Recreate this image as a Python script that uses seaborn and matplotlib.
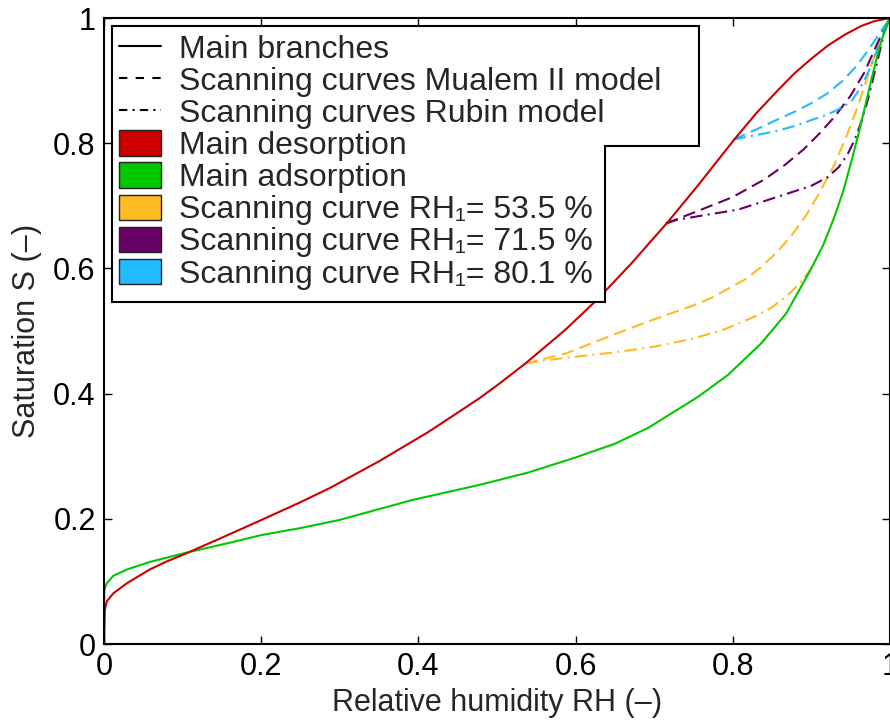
import matplotlib
matplotlib.use("Agg")
import matplotlib.pyplot as plt
import seaborn as sns
from matplotlib.lines import Line2D
from matplotlib.patches import Patch, Polygon
from matplotlib.ticker import FormatStrFormatter

# main desorption branch
rh_des = [0, 0.0009, 0.0034, 0.0118, 0.029, 0.058, 0.08, 0.105, 0.143, 0.2, 0.249, 0.287,
          0.35, 0.413, 0.477, 0.502, 0.536, 0.587, 0.629, 0.671, 0.718, 0.756, 0.802, 0.83,
          0.857, 0.878, 0.9, 0.921, 0.942, 0.963, 0.98, 1.0]
s_des = [0, 0.054, 0.068, 0.081, 0.097, 0.119, 0.132, 0.145, 0.166, 0.198, 0.226, 0.249,
         0.292, 0.339, 0.392, 0.415, 0.448, 0.502, 0.552, 0.608, 0.675, 0.733, 0.806, 0.848,
         0.884, 0.911, 0.935, 0.956, 0.973, 0.987, 0.995, 1.0]

# main adsorption branch
rh_ads = [0, 0.0003, 0.0034, 0.0118, 0.029, 0.058, 0.105, 0.164, 0.2, 0.249, 0.299, 0.392,
          0.477, 0.54, 0.6, 0.65, 0.692, 0.756, 0.794, 0.836, 0.868, 0.9, 0.915, 0.929, 0.941,
          0.952, 0.961, 0.969, 0.977, 0.985, 0.993, 1.0]
s_ads = [0, 0.086, 0.097, 0.109, 0.119, 0.131, 0.146, 0.163, 0.174, 0.185, 0.198, 0.23,
         0.254, 0.274, 0.298, 0.32, 0.345, 0.395, 0.43, 0.48, 0.528, 0.6, 0.637, 0.681, 0.725,
         0.776, 0.82, 0.862, 0.905, 0.945, 0.979, 1.0]

# scanning curves RH1 = 53.5 %
rh_535_mu = [0.536, 0.587, 0.65, 0.692, 0.75, 0.773, 0.815, 0.836, 0.857, 0.875, 0.893,
             0.91, 0.929, 0.946, 0.96, 0.975, 0.988, 1.0]
s_535_mu = [0.448, 0.464, 0.495, 0.515, 0.541, 0.553, 0.582, 0.602, 0.627, 0.653, 0.684,
            0.72, 0.765, 0.815, 0.862, 0.92, 0.968, 1.0]
rh_535_ru = [0.536, 0.56, 0.6, 0.65, 0.7, 0.75, 0.79, 0.828, 0.85, 0.87, 0.885, 0.9]
s_535_ru = [0.448, 0.453, 0.459, 0.466, 0.475, 0.488, 0.503, 0.523, 0.538, 0.557, 0.576, 0.6]

# scanning curves RH1 = 71.5 %
rh_715_mu = [0.715, 0.75, 0.8, 0.84, 0.866, 0.89, 0.91, 0.93, 0.95, 0.967, 0.98, 0.992, 1.0]
s_715_mu = [0.672, 0.689, 0.714, 0.742, 0.765, 0.79, 0.815, 0.843, 0.876, 0.912, 0.948,
            0.982, 1.0]
rh_715_ru = [0.715, 0.73, 0.807, 0.878, 0.9, 0.921, 0.935, 0.946, 0.955, 0.963, 0.971,
             0.978, 0.985, 0.993, 1.0]
s_715_ru = [0.672, 0.678, 0.694, 0.723, 0.732, 0.746, 0.762, 0.782, 0.805, 0.832, 0.865,
            0.9, 0.936, 0.978, 1.0]

# scanning curves RH1 = 80.1 %
rh_801_mu = [0.801, 0.83, 0.857, 0.88, 0.9, 0.921, 0.94, 0.955, 0.971, 0.985, 1.0]
s_801_mu = [0.806, 0.822, 0.838, 0.851, 0.864, 0.88, 0.9, 0.92, 0.946, 0.972, 1.0]
rh_801_ru = [0.801, 0.83, 0.857, 0.88, 0.9, 0.921, 0.942, 0.952, 0.959, 0.966, 0.974,
             0.984, 0.993, 1.0]
s_801_ru = [0.806, 0.813, 0.82, 0.828, 0.837, 0.846, 0.859, 0.869, 0.882, 0.897, 0.918,
            0.95, 0.982, 1.0]

red = "#CC0000"
green = "#00C800"
orange = "#FFBB22"
purple = "#660066"
blue = "#22BBFF"
dashed = (0, (6, 3))
dashdot = (0, (6, 2.5, 1, 2.5))

sns.set_style("ticks")
plt.rcParams["font.family"] = ["Liberation Sans", "DejaVu Sans"]

fig = plt.figure(figsize=(8.9, 7.22), dpi=100)
ax = fig.add_axes([0.1169, 0.108, 0.883, 0.867])

scans = [
    (rh_535_mu, s_535_mu, orange, dashed),
    (rh_535_ru, s_535_ru, orange, dashdot),
    (rh_715_mu, s_715_mu, purple, dashed),
    (rh_715_ru, s_715_ru, purple, dashdot),
    (rh_801_mu, s_801_mu, blue, dashed),
    (rh_801_ru, s_801_ru, blue, dashdot),
]
for x, y, c, ls in scans:
    sns.lineplot(x=x, y=y, color=c, linestyle=ls, lw=1.5, estimator=None, sort=False, ax=ax)

sns.lineplot(x=rh_ads, y=s_ads, color=green, lw=1.5, estimator=None, sort=False, ax=ax)
sns.lineplot(x=rh_des, y=s_des, color=red, lw=1.5, estimator=None, sort=False, ax=ax)

ax.set_xlim(0, 1)
ax.set_ylim(0, 1)
ticks = [0, 0.2, 0.4, 0.6, 0.8, 1.0]
ax.set_xticks(ticks)
ax.set_yticks(ticks)
ax.xaxis.set_major_formatter(FormatStrFormatter("%g"))
ax.yaxis.set_major_formatter(FormatStrFormatter("%g"))
ax.tick_params(direction="in", length=6, width=1, top=True, right=True,
               labelsize=22, pad=6, colors="black")
for sp in ax.spines.values():
    sp.set_linewidth(1.5)
    sp.set_color("black")
ax.set_xlabel("Relative humidity RH (–)", fontsize=22, labelpad=4)
ax.set_ylabel("Saturation S (–)", fontsize=22, labelpad=8)

handles = [
    Line2D([], [], color="black", lw=1.5, linestyle="-"),
    Line2D([], [], color="black", lw=1.5, linestyle=(0, (4, 4))),
    Line2D([], [], color="black", lw=1.5, linestyle=(0, (4, 2.5, 1, 2.5))),
] + [Patch(facecolor=c, edgecolor="#222222", lw=1) for c in [red, green, orange, purple, blue]]
labels = ["Main branches", "Scanning curves Mualem II model", "Scanning curves Rubin model",
          "Main desorption", "Main adsorption",
          "Scanning curve RH\u2081= 53.5 %",
          "Scanning curve RH\u2081= 71.5 %",
          "Scanning curve RH\u2081= 80.1 %"]

leg = ax.legend(handles, labels, loc="upper left", bbox_to_anchor=(0.0095, 0.987),
                borderaxespad=0, fontsize=23, frameon=False, labelspacing=0.04,
                handlelength=1.3, handleheight=0.85, handletextpad=0.55, borderpad=0.25)

# stepped legend outline (wide top part, narrower lower part)
fig.canvas.draw()
r = fig.canvas.get_renderer()
lb = leg.get_window_extent(r)
tb = [t.get_window_extent(r) for t in leg.get_texts()]
x_wide = max(b.x1 for b in tb[:3]) + 38
x_narrow = max(b.x1 for b in tb[3:]) + 13
y_mid = (tb[3].y0 + tb[3].y1) / 2
y_bot = lb.y0 - 5
outline = [(lb.x0, lb.y1), (x_wide, lb.y1), (x_wide, y_mid), (x_narrow, y_mid),
           (x_narrow, y_bot), (lb.x0, y_bot)]
outline = ax.transAxes.inverted().transform(outline)
ax.add_patch(Polygon(outline, closed=True, facecolor="white", edgecolor="black", lw=1.5,
                     transform=ax.transAxes, zorder=4.5, clip_on=False))

fig.savefig("out.png", dpi=100)
